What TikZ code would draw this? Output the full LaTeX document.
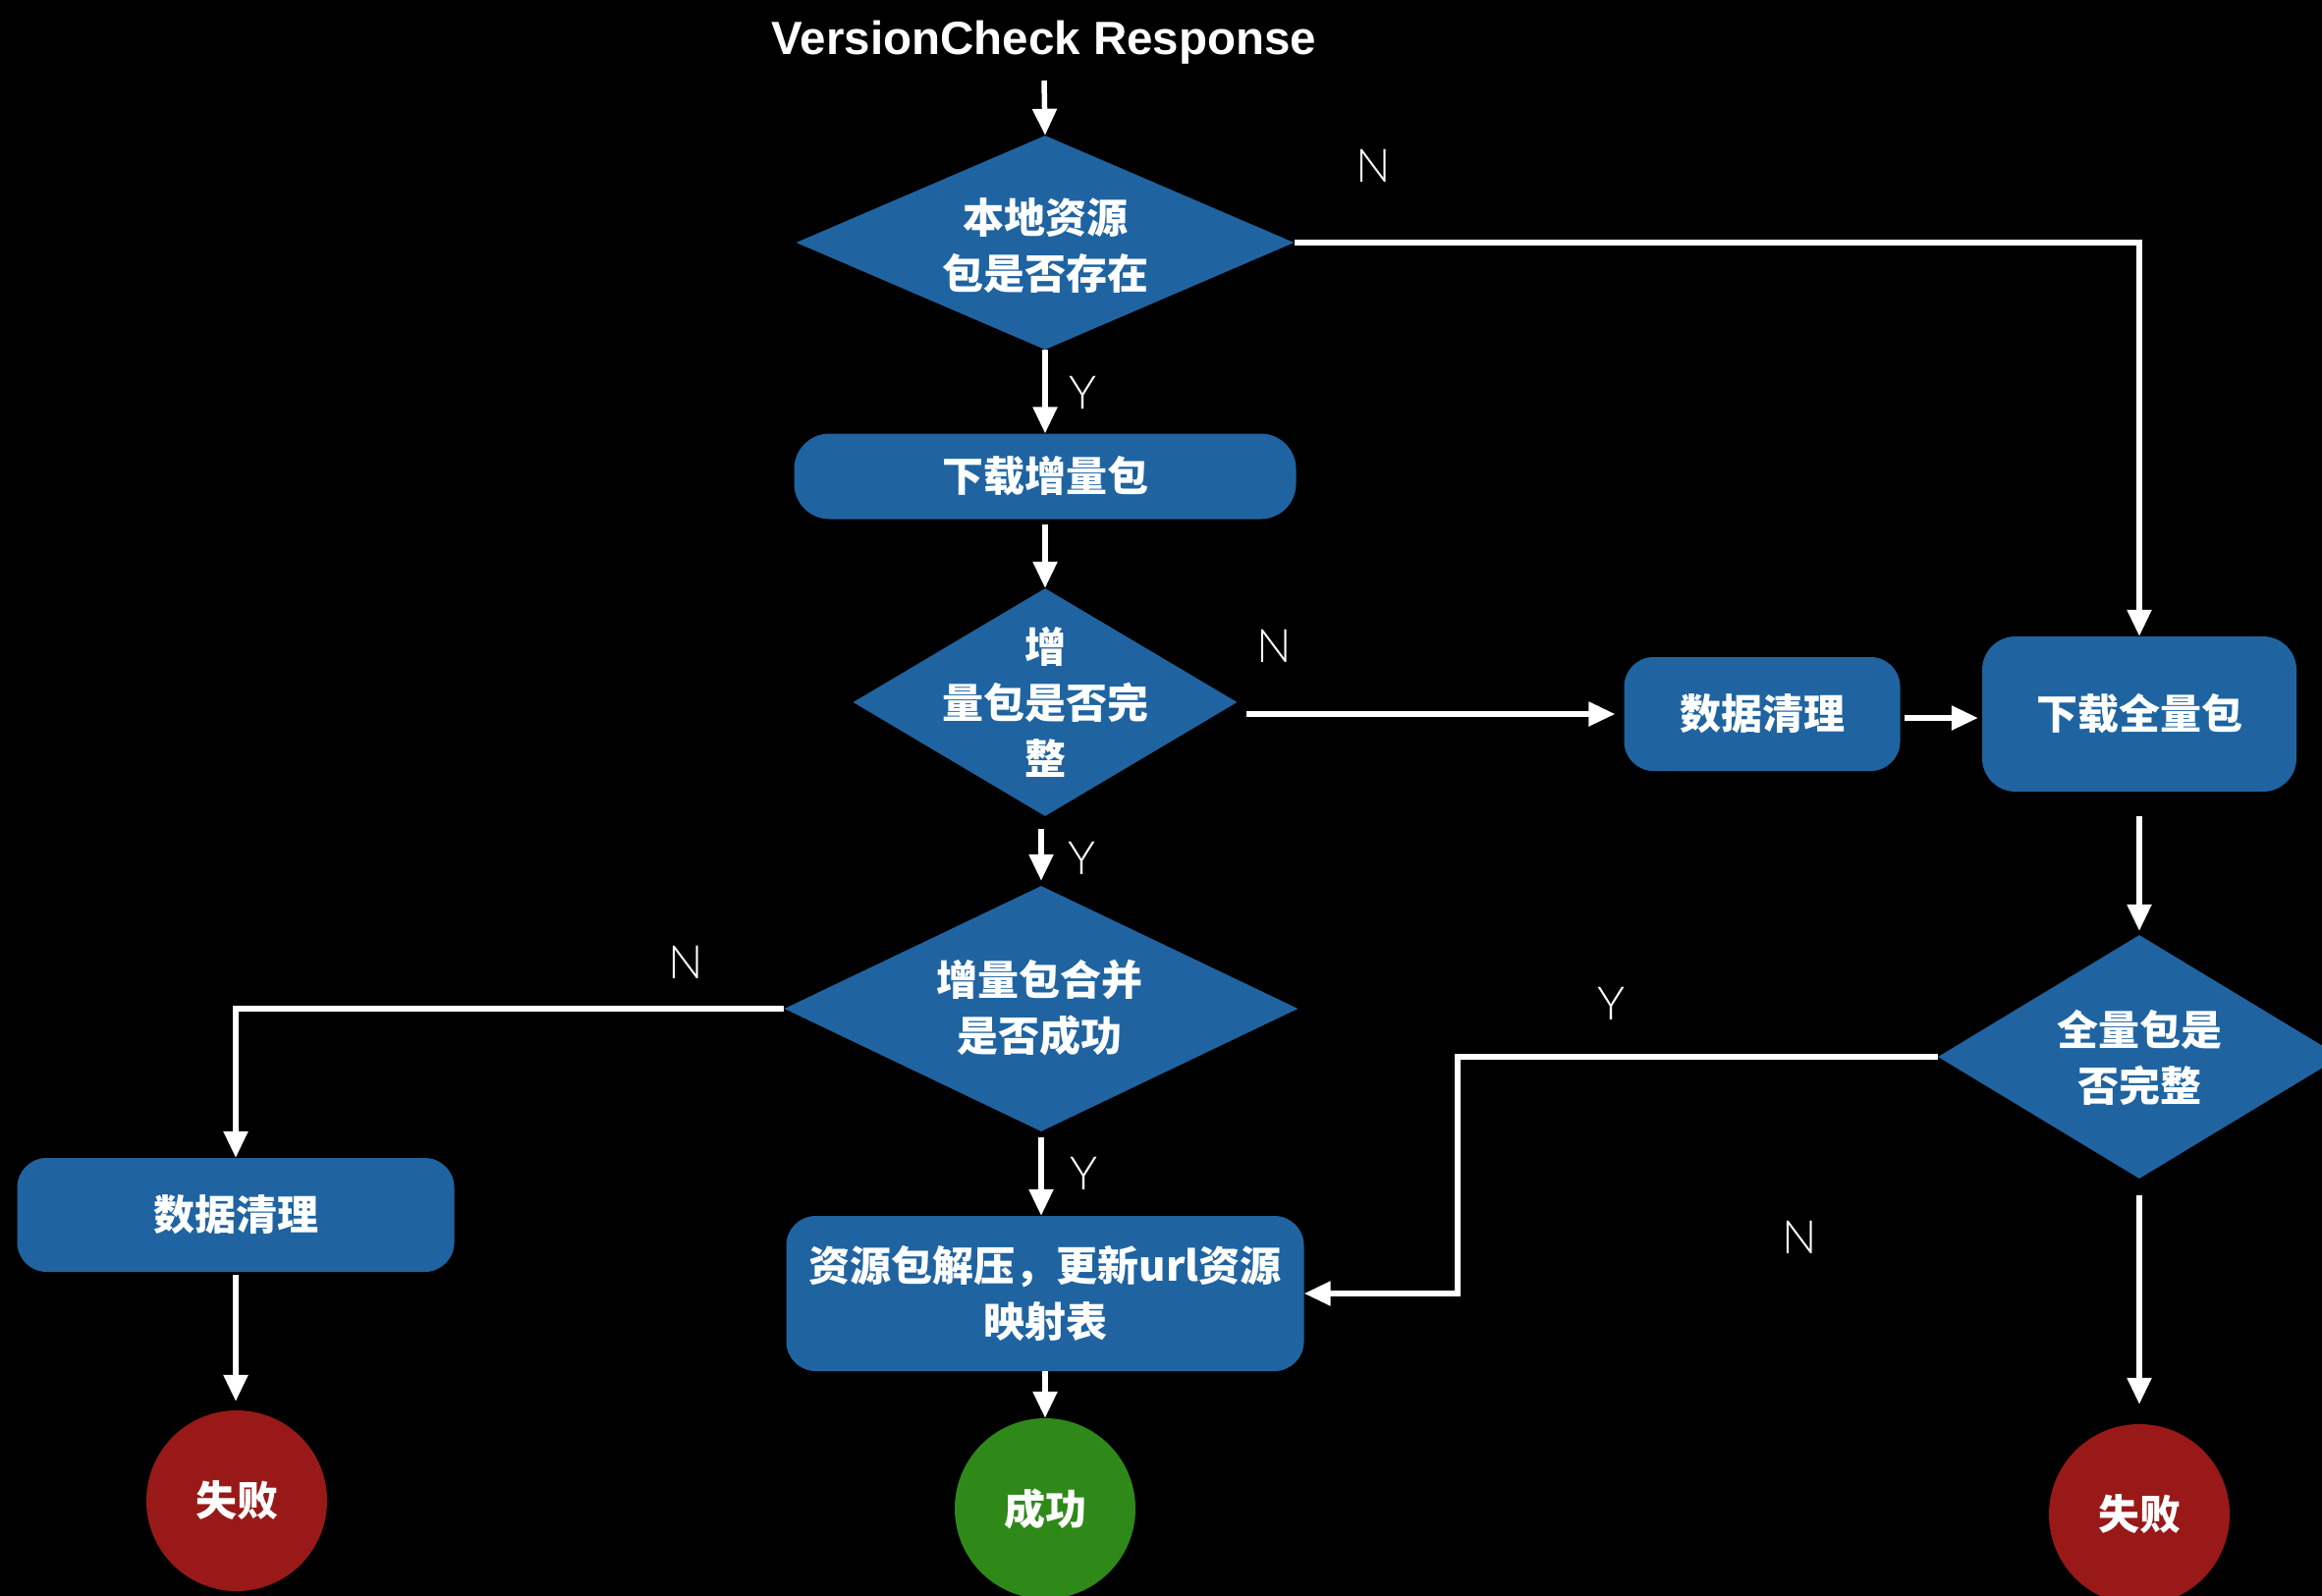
\documentclass[tikz,border=0pt]{standalone}
\usepackage{fontspec}
\setmainfont{Liberation Sans}
\newfontfamily\cjk{Noto Sans CJK SC}
\newfontfamily\lightfont{Lato Light}
\usetikzlibrary{shapes.geometric,arrows.meta,calc}
\definecolor{boxblue}{RGB}{31,100,161}
\definecolor{failred}{RGB}{153,25,25}
\definecolor{okgreen}{RGB}{47,137,25}
\tikzset{
  arr/.style={draw=white,line width=5.5pt,-{Triangle[length=27pt,width=24pt]}},
  cjktext/.style={text=white,align=center,font=\cjk\bfseries\fontsize{42}{57}\selectfont},
  decision/.style={shape=diamond,fill=boxblue,inner sep=0pt},
  procbox/.style={cjktext,shape=rectangle,fill=boxblue,rounded corners=30pt,inner sep=0pt},
  endcirc/.style={cjktext,shape=circle,minimum size=184pt,inner sep=0pt},
  yn/.style={text=white,font=\lightfont\fontsize{47}{47}\selectfont,inner sep=0pt},
}
\begin{document}
\begin{tikzpicture}[x=1pt,y=-1pt]
\fill[black] (0,0) rectangle (2364,1625);
\useasboundingbox (0,0) rectangle (2364,1625);

\node[text=white,font=\bfseries\fontsize{47.5}{47.5}\selectfont,anchor=base,inner sep=0pt] (title) at (1063,55) {VersionCheck Response};
\coordinate (t0) at (1063,82);

\node[decision,minimum width=507pt,minimum height=218pt] (d1) at (1064,247) {};
\node[cjktext] (d1t) at (1064,250) {本地资源\\包是否存在};
\node[procbox,rounded corners=36pt,minimum width=511pt,minimum height=87pt] (b1) at (1064,485) {下载增量包};
\node[decision,minimum width=391pt,minimum height=232pt] (d2) at (1064,715) {};
\node[cjktext] (d2t) at (1064,715) {增\\量包是否完\\整};
\node[procbox,minimum width=281pt,minimum height=116pt] (c1) at (1794,727) {数据清理};
\node[procbox,rounded corners=34pt,minimum width=320pt,minimum height=158pt] (b2) at (2178,727) {下载全量包};
\node[decision,minimum width=410pt,minimum height=248pt] (d3) at (2178,1076) {};
\node[cjktext] (d3t) at (2178,1077) {全量包是\\否完整};
\node[endcirc,fill=failred] (f2) at (2178,1542) {失败};
\node[decision,minimum width=523pt,minimum height=250pt] (d4) at (1060,1027) {};
\node[cjktext] (d4t) at (1058,1026) {增量包合并\\是否成功};
\node[procbox,minimum width=445pt,minimum height=116pt] (c2) at (240,1237) {数据清理};
\node[endcirc,fill=failred] (f1) at (241,1528) {失败};
\node[procbox,minimum width=527pt,minimum height=158pt] (b3) at (1064,1317) {资源包解压，更新url资源\\映射表};
\node[endcirc,fill=okgreen] (ok) at (1064,1536) {成功};

% connectors
\draw[arr] (t0) -- (d1.north);
\draw[arr] (d1.south) -- (b1.north);
\draw[arr,shorten <=5pt] (b1.south) -- (d2.north);
\draw[arr,shorten <=9pt,shorten >=9pt] ([yshift=-12pt]d2.east) -- ([yshift=-12pt] d2.east -| c1.west);
\draw[arr,shorten <=4pt,shorten >=4pt] ([yshift=-4pt]c1.east) -- ([yshift=-4pt]b2.west);
\draw[arr] (d1.east) -| (b2.north);
\draw[arr,shorten <=25pt,shorten >=4pt] (b2.south) -- (d3.north);
\draw[arr] (d3.west) -- ++(-489,0) |- (b3.east);
\draw[arr,shorten <=17pt,shorten >=20pt] (d3.south) -- (f2.north);
\draw[arr,shorten <=13pt,shorten >=5pt] (d2.south -| d4.north) -- (d4.north);
\draw[arr] (d4.west) -| (c2.north);
\draw[arr,shorten <=3pt,shorten >=9pt] (c2.south) -- (c2.south |- f1.north);
\draw[arr,shorten <=6pt] (d4.south) -- (d4.south |- b3.north);
\draw[arr] (b3.south) -- (b3.south |- ok.north);

% labels
\node[yn] (ln1) at (1398,169) {N};
\node[yn] (ly1) at (1102,400) {Y};
\node[yn] (ln2) at (1297,658) {N};
\node[yn] (ly2) at (1101,874) {Y};
\node[yn] (ln3) at (698,980) {N};
\node[yn] (ly3) at (1103,1195) {Y};
\node[yn] (ly4) at (1640,1022) {Y};
\node[yn] (ln4) at (1832,1260) {N};
\end{tikzpicture}
\end{document}
